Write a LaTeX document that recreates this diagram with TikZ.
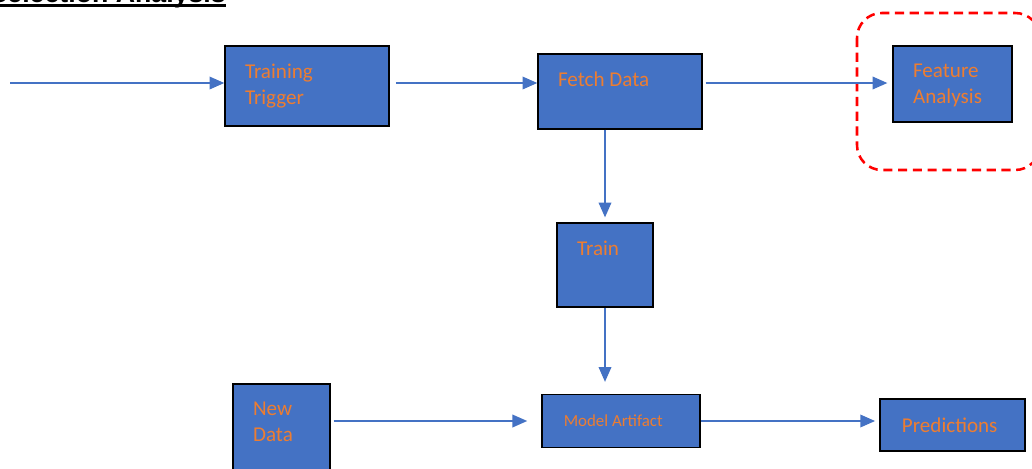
\documentclass[tikz,border=0pt]{standalone}
\usepackage{fontspec}
\setmainfont{Carlito}
\newfontfamily\titlefont{Liberation Sans}
\usetikzlibrary{calc, positioning}
\usetikzlibrary{arrows.meta}
\definecolor{boxblue}{HTML}{4472C4}
\definecolor{txtorange}{HTML}{ED7D31}
\newcommand{\thickul}[1]{\setbox0\hbox{#1}\rlap{\rule[-3.5pt]{\wd0}{2.1pt}}\box0}

\begin{document}
\begin{tikzpicture}[x=0.025cm, y=-0.025cm,
  box/.style={draw=black, line width=1pt, fill=boxblue, inner sep=0pt},
  lab/.style={text=txtorange, font=\fontsize{15}{18.5}\selectfont, align=left, inner sep=0pt},
  toplab/.style={label={[lab, anchor=north west, xshift=14.6pt, yshift=-12.8pt]north west:{#1}}},
  flow/.style={draw=boxblue, line width=1pt, -{Triangle[length=10.5pt, width=9pt]}},
  focus/.style={draw=red, line width=1.8pt, dash pattern=on 6.5pt off 4pt, rounded corners=17.7pt}]
\useasboundingbox (0,0) rectangle (1032,468);
\clip (0,0) rectangle (1032,468);

\node[anchor=base east, inner sep=0pt, font=\titlefont\bfseries\fontsize{19}{22}\selectfont] (title) at (226,2) {\thickul{Selection Analysis}};

\coordinate (in) at (10,83);
\node[box, minimum width=4.1cm, minimum height=2cm, toplab={Training\\Trigger}] (trig) at (307,86) {};
\node[box, minimum width=4.1cm, minimum height=1.875cm, toplab={\raisebox{-2.5pt}{Fetch Data}}] (fetch) at (620,91.5) {};
\node[box, minimum width=2.975cm, minimum height=1.9cm, toplab={Feature\\Analysis}] (feat) at (952.5,84) {};
\node[box, minimum width=2.4cm, minimum height=2.1cm, toplab={Train}] (train) at (605,265) {};
\node[box, minimum width=2.425cm, minimum height=2.15cm, toplab={New\\Data}] (newd) at (281.5,427) {};
\node[box, minimum width=3.95cm, minimum height=1.325cm, font=\fontsize{12}{14}\selectfont, text=txtorange] (model) at (621,421) {\hspace*{-11pt}Model Artifact};
\node[box, minimum width=3.625cm, minimum height=1.3cm, font=\fontsize{15}{18}\selectfont, text=txtorange] (pred) at (952.5,425) {\hspace*{-4pt}Predictions};

\draw[focus] (857,13) rectangle (1040,170);

\draw[flow] (in) -- (in -| trig.west);
\draw[flow, shorten <=4.3pt] (trig.east |- in) -- (fetch.west |- in);
\draw[flow, shorten <=2pt, shorten >=3.5pt] (fetch.east |- in) -- (feat.west |- in);
\draw[flow, shorten >=3.5pt] (fetch.south -| train.north) -- (train.north);
\draw[flow, shorten >=8.5pt] (train.south) -- (train.south |- model.north);
\draw[flow, shorten <=2pt, shorten >=10pt] (newd.east |- model.west) -- (model.west);
\draw[flow, shorten >=3pt] (model.east) -- (pred.west |- model.east);
\end{tikzpicture}
\end{document}
